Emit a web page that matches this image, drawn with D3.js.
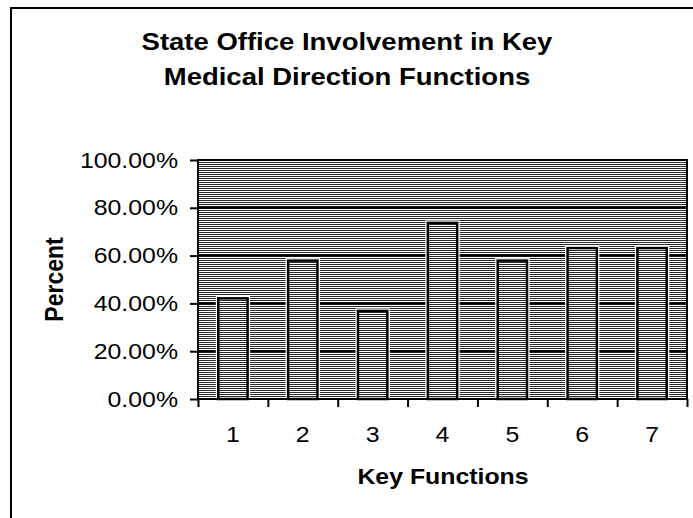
<!DOCTYPE html>
<html lang="en">
	<head>
		<meta charset="utf-8">
		<title>State Office Involvement</title>
		<script type="text/javascript" src="https://cdn.jsdelivr.net/npm/d3@7"></script>
		<style>
			body { margin: 0; background: #fff; }
			text { font-family: "Liberation Sans", Arial, sans-serif; fill: #000; }
		</style>
	</head>
	<body>
		<script type="text/javascript">

			var w = 693;
			var h = 518;
			var sx = 1.13;      // the scan is stretched sideways, so is its text
			var titleSx = 1.17;

			var categories = ["1", "2", "3", "4", "5", "6", "7"];
			var values = [0.4211, 0.5789, 0.3684, 0.7368, 0.5789, 0.6316, 0.6316];
			var yTicks = [0, 0.2, 0.4, 0.6, 0.8, 1.0];
			var titleLines = ["State Office Involvement in Key", "Medical Direction Functions"];

			var plot = { left: 198, right: 687, top: 160, bottom: 399 };

			var svg = d3.select("body")
						.append("svg")
						.attr("width", w)
						.attr("height", h);

			// striped fill like the scanned chart
			var defs = svg.append("defs");
			var pat = defs.append("pattern")
						  .attr("id", "stripes")
						  .attr("patternUnits", "userSpaceOnUse")
						  .attr("width", 8)
						  .attr("height", 2);
			pat.append("rect").attr("width", 8).attr("height", 2).attr("fill", "#fff");
			pat.append("rect").attr("width", 8).attr("height", 1).attr("fill", "#2a2a2a");

			var xScale = d3.scaleBand()
						   .domain(categories)
						   .range([plot.left, plot.right])
						   .paddingInner(0.58)
						   .paddingOuter(0.29);

			var xEdges = d3.scaleLinear()
						   .domain([0, categories.length])
						   .range([plot.left, plot.right]);

			var yScale = d3.scaleLinear()
						   .domain([0, 1])
						   .range([plot.bottom, plot.top]);

			// outer frame (only top and left survive in the scan)
			svg.append("path")
			   .attr("d", "M11," + h + "V8H" + w)
			   .attr("fill", "none")
			   .attr("stroke", "#000")
			   .attr("stroke-width", 2);

			// plot background
			svg.append("rect")
			   .attr("x", plot.left)
			   .attr("y", plot.top)
			   .attr("width", plot.right - plot.left)
			   .attr("height", plot.bottom - plot.top)
			   .attr("fill", "url(#stripes)");

			// gridlines
			svg.selectAll("line.grid")
			   .data(yTicks)
			   .enter()
			   .append("line")
			   .attr("class", "grid")
			   .attr("x1", plot.left)
			   .attr("x2", plot.right)
			   .attr("y1", function(d) { return yScale(d); })
			   .attr("y2", function(d) { return yScale(d); })
			   .attr("stroke", "#000")
			   .attr("stroke-width", 2);

			// white halo behind bars
			svg.selectAll("rect.halo")
			   .data(values)
			   .enter()
			   .append("rect")
			   .attr("class", "halo")
			   .attr("x", function(d, i) { return xScale(categories[i]) - 2.5; })
			   .attr("y", function(d) { return yScale(d) - 2.5; })
			   .attr("width", xScale.bandwidth() + 5)
			   .attr("height", function(d) { return yScale(0) - yScale(d) + 2.5; })
			   .attr("fill", "#fff");

			svg.selectAll("rect.bar")
			   .data(values)
			   .enter()
			   .append("rect")
			   .attr("class", "bar")
			   .attr("x", function(d, i) { return xScale(categories[i]); })
			   .attr("y", function(d) { return yScale(d); })
			   .attr("width", xScale.bandwidth())
			   .attr("height", function(d) { return yScale(0) - yScale(d); })
			   .attr("fill", "url(#stripes)")
			   .attr("stroke", "#000")
			   .attr("stroke-width", 2.5);

			// plot border
			svg.append("rect")
			   .attr("x", plot.left)
			   .attr("y", plot.top)
			   .attr("width", plot.right - plot.left)
			   .attr("height", plot.bottom - plot.top)
			   .attr("fill", "none")
			   .attr("stroke", "#000")
			   .attr("stroke-width", 2);

			// axes
			var yAxis = d3.axisLeft(yScale)
						  .tickValues(yTicks)
						  .tickFormat(d3.format(".2%"))
						  .tickSize(8)
						  .tickPadding(12);

			var gy = svg.append("g")
						.attr("transform", "translate(" + plot.left + ",0)")
						.call(yAxis);
			gy.select(".domain").remove();
			gy.selectAll("line").attr("stroke-width", 2);
			gy.selectAll("text")
			  .attr("font-size", "22px")
			  .attr("font-family", null)
			  .attr("x", -20 / sx)
			  .attr("transform", "scale(" + sx + ",1)");

			var xTickAxis = d3.axisBottom(xEdges)
							  .ticks(categories.length)
							  .tickSize(8)
							  .tickFormat("");
			var gxt = svg.append("g")
						 .attr("transform", "translate(0," + plot.bottom + ")")
						 .call(xTickAxis);
			gxt.select(".domain").remove();
			gxt.selectAll("line").attr("stroke-width", 2);

			var xAxis = d3.axisBottom(xScale)
						  .tickSize(0)
						  .tickPadding(27);
			var gx = svg.append("g")
						.attr("transform", "translate(0," + plot.bottom + ")")
						.call(xAxis);
			gx.select(".domain").remove();
			gx.selectAll("text")
			  .attr("font-size", "22px")
			  .attr("font-family", null)
			  .attr("transform", "scale(" + sx + ",1)");

			// titles
			svg.append("text")
			   .attr("transform", "translate(347,0) scale(" + titleSx + ",1)")
			   .selectAll("tspan")
			   .data(titleLines)
			   .enter()
			   .append("tspan")
			   .attr("x", 0)
			   .attr("y", function(d, i) { return 50 + i * 35; })
			   .attr("text-anchor", "middle")
			   .attr("font-size", "23.5px")
			   .attr("font-weight", "bold")
			   .text(function(d) { return d; });

			svg.append("text")
			   .attr("transform", "translate(443,484) scale(" + sx + ",1)")
			   .attr("text-anchor", "middle")
			   .attr("font-size", "22px")
			   .attr("font-weight", "bold")
			   .text("Key Functions");

			svg.append("text")
			   .attr("transform", "translate(63," + ((plot.top + plot.bottom) / 2) + ") rotate(-90) scale(1," + sx + ")")
			   .attr("text-anchor", "middle")
			   .attr("font-size", "23px")
			   .attr("font-weight", "bold")
			   .text("Percent");

		</script>
	</body>
</html>
